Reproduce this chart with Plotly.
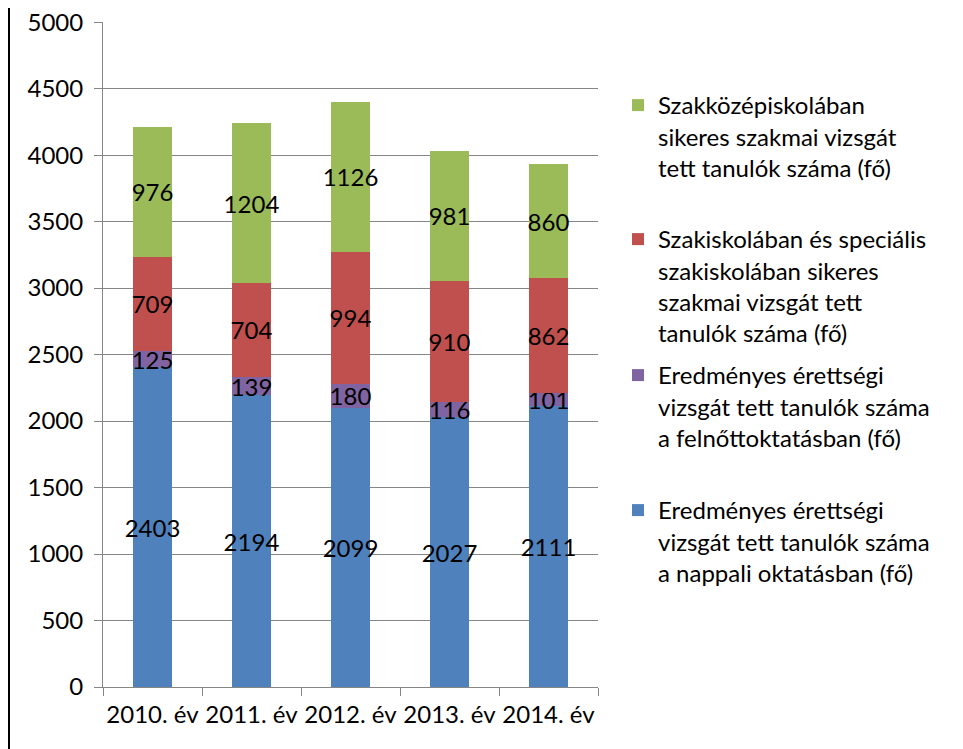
import plotly.graph_objects as go

categories = ["2010. év", "2011. év", "2012. év", "2013. év", "2014. év"]
nappali = [2403, 2194, 2099, 2027, 2111]
felnott = [125, 139, 180, 116, 101]
szakiskola = [709, 704, 994, 910, 862]
szakkozep = [976, 1204, 1126, 981, 860]

names = [
    "Eredményes érettségi<br>vizsgát tett tanulók száma<br>a nappali oktatásban (fő)",
    "Eredményes érettségi<br>vizsgát tett tanulók száma<br>a felnőttoktatásban (fő)",
    "Szakiskolában és speciális<br>szakiskolában sikeres<br>szakmai vizsgát tett<br>tanulók száma (fő)",
    "Szakközépiskolában<br>sikeres szakmai vizsgát<br>tett tanulók száma (fő)",
]
series = [nappali, felnott, szakiskola, szakkozep]
colors = ["#4F81BD", "#8064A2", "#C0504D", "#9BBB59"]
legends = ["legend4", "legend3", "legend2", "legend"]

FONT = "Lato"
FS = 24
fig = go.Figure()
for vals, name, col, lg in zip(series, names, colors, legends):
    fig.add_trace(go.Bar(
        x=categories, y=vals, name=name, marker=dict(color=col, line=dict(width=0)),
        text=vals, texttemplate="%{text}", textposition="inside",
        insidetextanchor="middle", textangle=0,
        textfont=dict(family=FONT, size=FS, color="black"),
        legend=lg,
    ))

# page pixel -> paper coords (page has an 8px body margin)
def ppx(px):
    return (687 - px) / 665.0

def xpx(px):
    return (px - 103) / 495.0

legend_common = dict(font=dict(family=FONT, size=FS, color="black"),
                     bgcolor="rgba(0,0,0,0)", valign="top", xanchor="left",
                     yanchor="top", itemwidth=30)
legend_tops = {"legend": 83, "legend2": 217, "legend3": 353, "legend4": 488}

layout_legends = {}
for k, top in legend_tops.items():
    d = dict(legend_common)
    d.update(x=xpx(618), y=ppx(top))
    layout_legends[k] = d

fig.update_layout(
    width=955, height=741,
    barmode="stack", bargap=0.6,
    plot_bgcolor="white", paper_bgcolor="white",
    margin=dict(l=95, r=365, t=14, b=62, autoexpand=False),
    font=dict(family=FONT, size=FS, color="black"),
    uniformtext=dict(minsize=FS, mode="show"),
    showlegend=True,
    xaxis=dict(showline=True, linecolor="#868686", linewidth=1,
               ticks="outside", tickson="boundaries", ticklen=8, tickcolor="#868686",
               tickangle=0, ticklabelstandoff=6, ticklabeloverflow="allow",
               tickfont=dict(family=FONT, size=FS, color="black"), showgrid=False),
    yaxis=dict(range=[0, 5001], tickvals=list(range(0, 5001, 500)),
               showline=True, linecolor="#868686",
               linewidth=1, ticks="outside", ticklen=8, tickcolor="#868686",
               ticklabelstandoff=6, ticklabeloverflow="allow",
               showgrid=True, gridcolor="#868686", gridwidth=1, zeroline=False,
               tickfont=dict(family=FONT, size=FS, color="black")),
    shapes=[dict(type="line", xref="paper", yref="paper",
                 x0=xpx(9), x1=xpx(9), y0=ppx(0), y1=ppx(760),
                 line=dict(color="black", width=2))],
    **layout_legends,
)

fig.write_html("out.html")
